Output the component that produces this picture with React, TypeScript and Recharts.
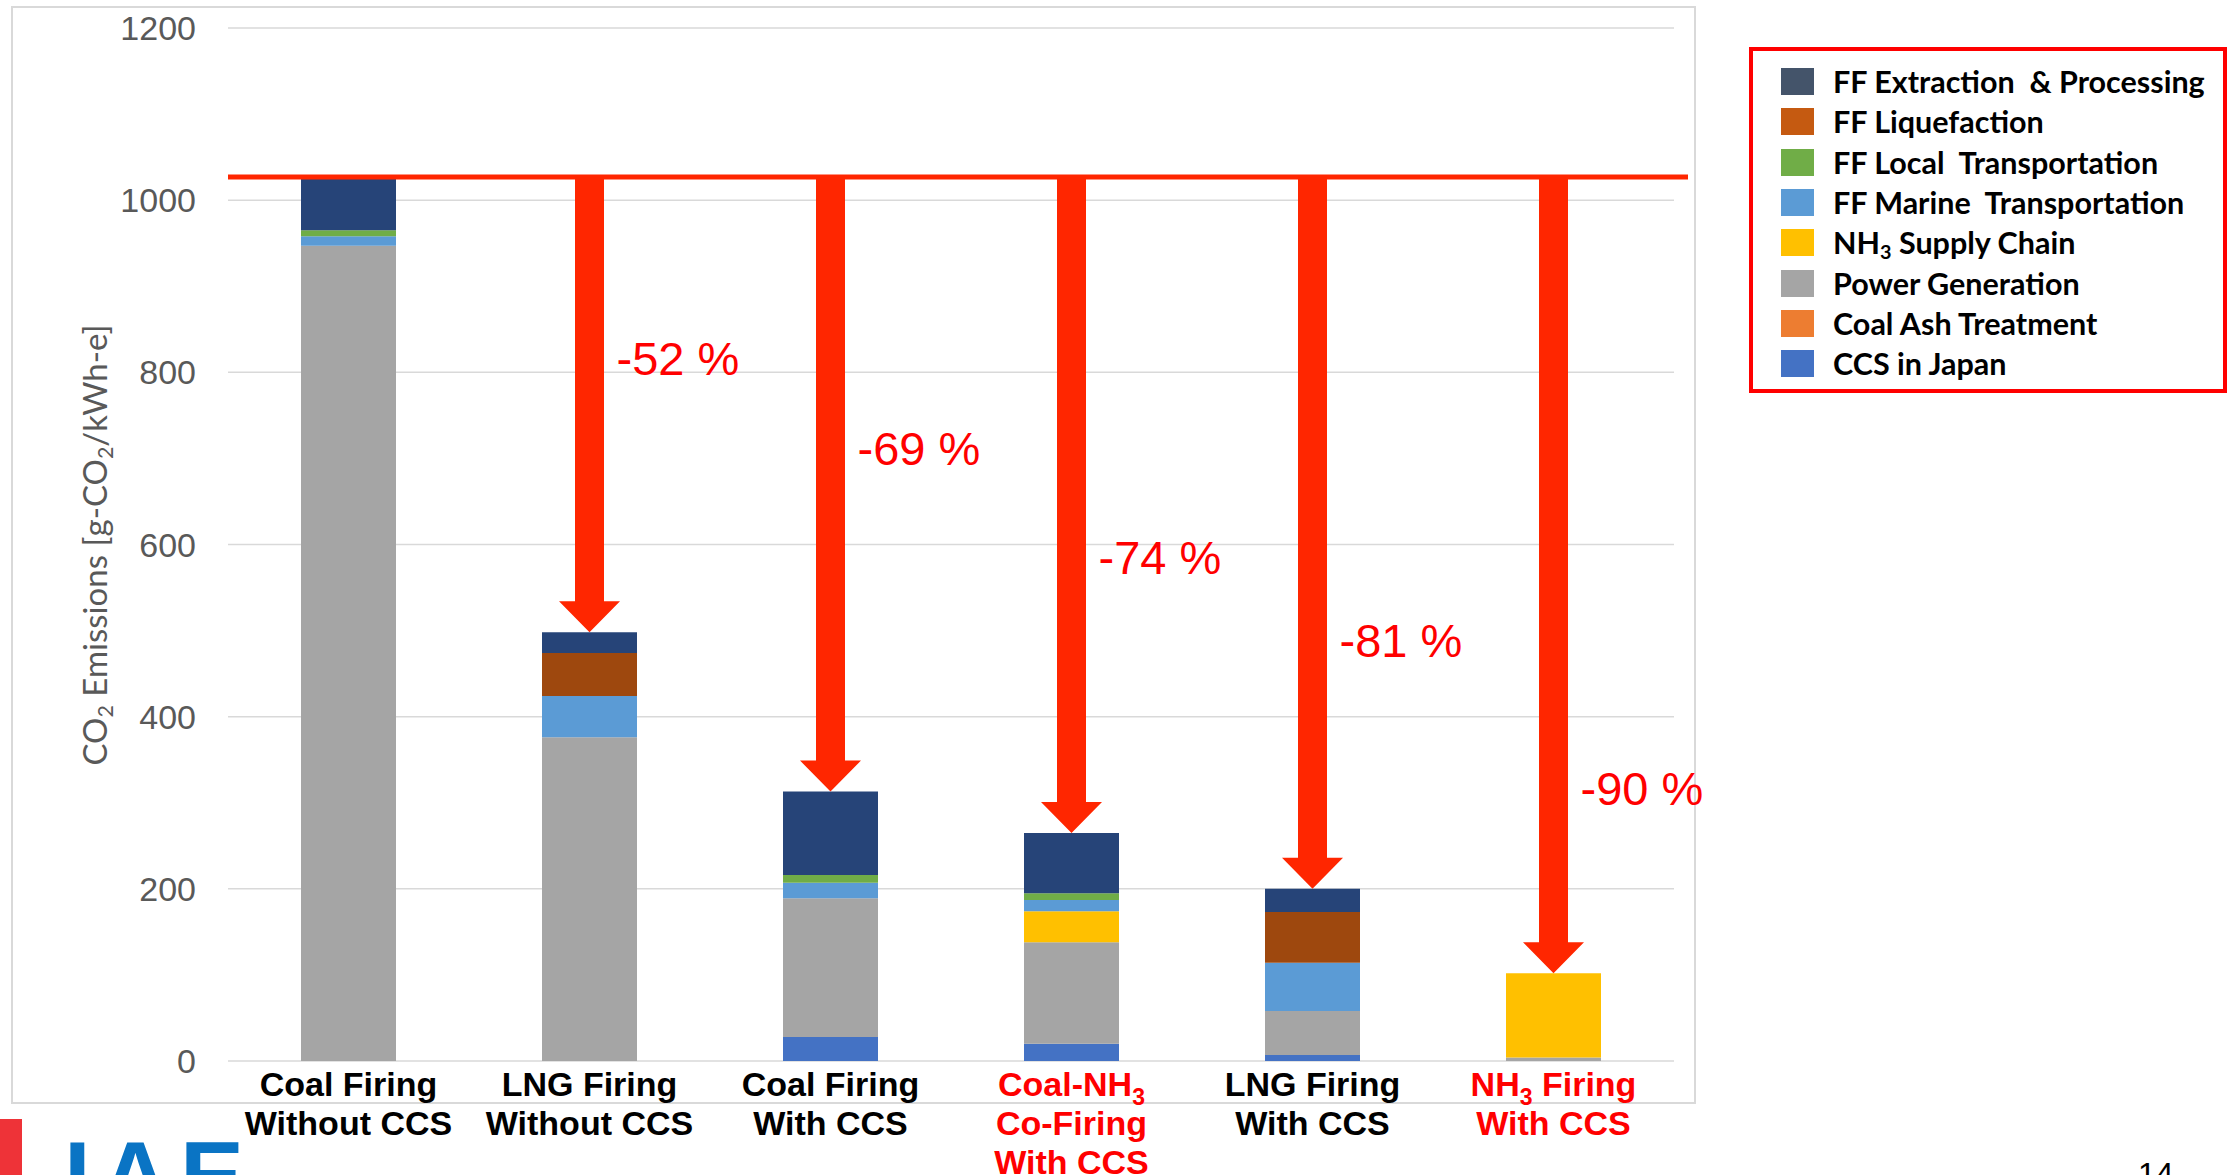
import React from 'react';
import { BarChart, Bar, XAxis, YAxis, CartesianGrid, ReferenceLine } from 'recharts';

// categories, bottom label lines (NH3 / CO2 get a subscript when drawn)
const categories = ['coal', 'lng', 'coalCcs', 'coalNh3Ccs', 'lngCcs', 'nh3Ccs'];
const categoryLines = [
  ['Coal Firing', 'Without CCS'],
  ['LNG Firing', 'Without CCS'],
  ['Coal Firing', 'With CCS'],
  ['Coal-NH3', 'Co-Firing', 'With CCS'],
  ['LNG Firing', 'With CCS'],
  ['NH3 Firing', 'With CCS'],
];
const highlighted = [false, false, false, true, false, true];

// stack values, g-CO2/kWh-e (bottom to top)
const ccsInJapan = [0, 0, 28, 20, 7, 0];
const coalAsh = [0, 0, 0, 0, 0, 0];
const powerGeneration = [947, 376, 161, 118, 51, 4];
const nh3SupplyChain = [0, 0, 0, 36, 0, 98];
const ffMarine = [11, 48, 18, 13, 56, 0];
const ffLocal = [7, 0, 9, 8, 0, 0];
const ffLiquefaction = [0, 50, 0, 0, 59, 0];
const ffExtraction = [61, 24, 97, 70, 27, 0];

const baseline = 1027;
const reductionLabels = ['', '-52 %', '-69 %', '-74 %', '-81 %', '-90 %'];
const reductionLabelAt = [0, 816, 712, 585, 489, 316];

const yTicks = [0, 200, 400, 600, 800, 1000, 1200];

const series = [
  { key: 'ccs', name: 'CCS in Japan', values: ccsInJapan, color: '#4472C4', legend: '#4472C4' },
  { key: 'ash', name: 'Coal Ash Treatment', values: coalAsh, color: '#ED7D31', legend: '#ED7D31' },
  { key: 'power', name: 'Power Generation', values: powerGeneration, color: '#A5A5A5', legend: '#A5A5A5' },
  { key: 'nh3', name: 'NH3 Supply Chain', values: nh3SupplyChain, color: '#FFC000', legend: '#FFC000' },
  { key: 'marine', name: 'FF Marine  Transportation', values: ffMarine, color: '#5B9BD5', legend: '#5B9BD5' },
  { key: 'local', name: 'FF Local  Transportation', values: ffLocal, color: '#70AD47', legend: '#70AD47' },
  { key: 'liq', name: 'FF Liquefaction', values: ffLiquefaction, color: '#9E480E', legend: '#C55A11' },
  { key: 'ext', name: 'FF Extraction  & Processing', values: ffExtraction, color: '#264478', legend: '#44546A' },
];

const data = categories.map((name, i) => {
  const row: any = { name };
  let total = 0;
  series.forEach((s) => {
    row[s.key] = s.values[i];
    total += s.values[i];
  });
  row.total = total;
  row.arrow = i === 0 ? null : [total, baseline];
  row.label = reductionLabels[i];
  row.labelAt = reductionLabelAt[i];
  return row;
});

const RED = '#FF2600';
const FONT = '"Liberation Sans", Arial, sans-serif';

// split "NH3" / "CO2" into tspans with a subscript digit
function chemSvg(text: string, subSize: number, shift: number) {
  const parts = text.split(/(NH3|CO2)/).filter((p) => p !== '');
  const out: any[] = [];
  let pendingDy = 0;
  parts.forEach((p, k) => {
    if (p === 'NH3' || p === 'CO2') {
      out.push(<tspan key={k + 'a'} dy={pendingDy || undefined}>{p.slice(0, 2)}</tspan>);
      out.push(<tspan key={k + 'b'} dy={shift} fontSize={subSize}>{p[2]}</tspan>);
      pendingDy = -shift;
    } else {
      out.push(<tspan key={k} dy={pendingDy || undefined}>{p}</tspan>);
      pendingDy = 0;
    }
  });
  return out;
}

function chemHtml(text: string) {
  return text.split(/(NH3|CO2)/).map((p, k) =>
    p === 'NH3' || p === 'CO2' ? (
      <span key={k}>
        {p.slice(0, 2)}
        <sub style={{ fontSize: '0.65em', verticalAlign: '-0.25em' }}>{p[2]}</sub>
      </span>
    ) : (
      <span key={k}>{p}</span>
    )
  );
}

const CategoryTick = (props: any) => {
  const { x, y, payload } = props;
  const i = categories.indexOf(payload.value);
  const lines = categoryLines[i] || [];
  return (
    <text x={x} y={y} textAnchor="middle" fill={highlighted[i] ? '#FF0000' : '#000'} fontSize={34} fontWeight="bold" fontFamily={FONT}>
      {lines.map((l, k) => (
        <tspan key={k} x={x} y={y + 27 + k * 39}>
          {chemSvg(l, 23, 9)}
        </tspan>
      ))}
    </text>
  );
};

const ArrowShape = (props: any) => {
  const { x, y, width, height, payload } = props;
  if (!payload || payload.arrow == null || !(height > 0)) return null;
  const cx = x + width / 2;
  const tip = y + height;
  const headTop = tip - 31;
  const pts = [
    [cx - 14.5, y],
    [cx + 14.5, y],
    [cx + 14.5, headTop],
    [cx + 30.5, headTop],
    [cx, tip],
    [cx - 30.5, headTop],
    [cx - 14.5, headTop],
  ]
    .map((p) => p.join(','))
    .join(' ');
  const pxPerUnit = height / (baseline - payload.total);
  const ly = y + (baseline - payload.labelAt) * pxPerUnit;
  return (
    <g>
      <polygon points={pts} fill={RED} />
      <text x={cx + 27} y={ly} dominantBaseline="central" fill="#FF0000" fontSize={47} fontFamily={FONT}>
        {payload.label}
      </text>
    </g>
  );
};

export default function App() {
  return (
    <div style={{ position: 'absolute', left: 0, top: 0, width: 2228, height: 1175, overflow: 'hidden', background: '#fff' }}>
      {/* chart frame */}
      <div style={{ position: 'absolute', left: 11, top: 6, width: 1685, height: 1098, border: '2px solid #D9D9D9', boxSizing: 'border-box' }} />

      <div style={{ position: 'absolute', left: 0, top: 0 }}>
        <BarChart width={1730} height={1175} data={data} margin={{ top: 28, right: 56, bottom: 4, left: 0 }}>
          <CartesianGrid vertical={false} stroke="#D9D9D9" strokeWidth={1.5} />
          <XAxis dataKey="name" tickLine={false} axisLine={false} height={110} interval={0} tick={<CategoryTick />} />
          <XAxis xAxisId="arrow" dataKey="name" hide />
          <YAxis
            domain={[0, 1200]}
            ticks={yTicks}
            tickLine={false}
            axisLine={false}
            width={228}
            tickMargin={26}
            tick={{ fill: '#595959', fontSize: 34, fontFamily: FONT }}
          />
          {series.map((s) => (
            <Bar key={s.key} dataKey={s.key} stackId="a" fill={s.color} barSize={95} isAnimationActive={false} />
          ))}
          <ReferenceLine
            y={baseline}
            stroke={RED}
            strokeWidth={5}
            shape={(p: any) => <line x1={p.x1} y1={p.y1} x2={p.x2 + 14} y2={p.y2} stroke={RED} strokeWidth={5} />}
          />
          <Bar xAxisId="arrow" dataKey="arrow" barSize={61} shape={<ArrowShape />} isAnimationActive={false} />
        </BarChart>
      </div>

      {/* y axis title */}
      <div
        style={{
          position: 'absolute',
          left: 96,
          top: 545,
          transform: 'translate(-50%, -50%) rotate(-90deg)',
          whiteSpace: 'nowrap',
          fontFamily: 'Lato, sans-serif',
          fontSize: 33,
          color: '#595959',
        }}
      >
        {chemHtml('CO2 Emissions [g-CO2/kWh-e]')}
      </div>

      {/* legend */}
      <div
        style={{
          position: 'absolute',
          left: 1749,
          top: 47,
          width: 478,
          height: 346,
          border: '4px solid #FF0000',
          boxSizing: 'border-box',
          fontFamily: 'Lato, sans-serif',
          fontWeight: 'bold',
          fontSize: 30.5,
          color: '#000',
        }}
      >
        {[...series].reverse().map((s, i) => (
          <div key={s.key} style={{ position: 'absolute', left: 0, top: 30 + i * 40.3 - 20, height: 40 }}>
            <div style={{ position: 'absolute', left: 28, top: 7, width: 33, height: 27, background: s.legend }} />
            <div style={{ position: 'absolute', left: 80, whiteSpace: 'pre', lineHeight: '40px', top: 0 }}>{chemHtml(s.name)}</div>
          </div>
        ))}
      </div>

      {/* slide footer bits */}
      <div style={{ position: 'absolute', left: 0, top: 1119, width: 22, height: 60, background: '#EE3338' }} />
      <div
        style={{
          position: 'absolute',
          left: 64,
          top: 1128,
          fontFamily: FONT,
          fontWeight: 'bold',
          fontSize: 96,
          lineHeight: 1,
          color: '#0A74C4',
          letterSpacing: 10,
        }}
      >
        IAE
      </div>
      <div style={{ position: 'absolute', left: 2138, top: 1156, fontFamily: FONT, fontSize: 32, color: '#000' }}>14</div>
    </div>
  );
}
